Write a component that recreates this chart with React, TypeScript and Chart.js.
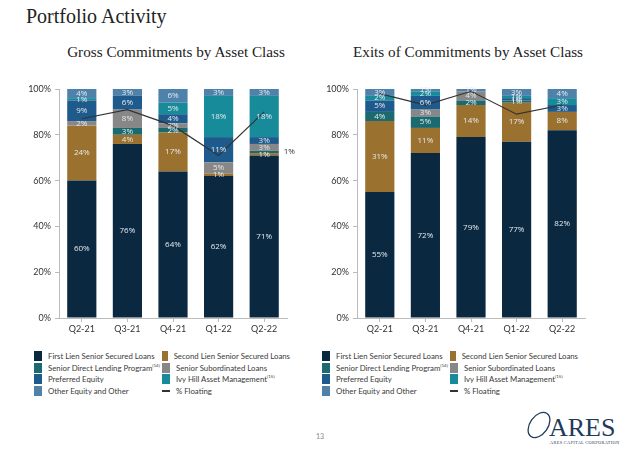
import React, { useEffect, useRef } from "react";
import { Chart, registerables } from "chart.js";
Chart.register(...registerables);

const quarters = ["Q2-21", "Q3-21", "Q4-21", "Q1-22", "Q2-22"];
const seriesNames = [
  "First Lien Senior Secured Loans",
  "Second Lien Senior Secured Loans",
  "Senior Direct Lending Program",
  "Senior Subordinated Loans",
  "Preferred Equity",
  "Ivy Hill Asset Management",
  "Other Equity and Other",
];
const seriesNotes = ["", "", "(14)", "", "", "(15)", ""];
const seriesColors = ["#0a2840", "#9a712e", "#1b6a70", "#878787", "#1e5a8c", "#188b9b", "#4f82ab"];
const floatingName = "% Floating";
const yTicks = [0, 20, 40, 60, 80, 100];

// Gross Commitments (%)
const grossFirstLien = [60, 76, 64, 62, 71];
const grossSecondLien = [24, 4, 17, 1, 1];
const grossSDLP = [0, 3, 2, 0, 1];
const grossSeniorSub = [2, 8, 2, 5, 3];
const grossPreferred = [9, 6, 4, 11, 3];
const grossIvyHill = [1, 0, 5, 18, 18];
const grossOther = [4, 3, 6, 3, 3];
const grossFloating = [87, 91, 84, 71, 90];

// Exits of Commitments (%)
const exitFirstLien = [55, 72, 79, 77, 82];
const exitSecondLien = [31, 11, 14, 17, 8];
const exitSDLP = [4, 5, 2, 1, 0];
const exitSeniorSub = [0, 3, 4, 0, 0];
const exitPreferred = [5, 6, 0, 1, 3];
const exitIvyHill = [2, 2, 0, 1, 3];
const exitOther = [3, 1, 1, 3, 4];
const exitFloating = [98, 93, 99, 89, 93];

const grossSeries = [grossFirstLien, grossSecondLien, grossSDLP, grossSeniorSub, grossPreferred, grossIvyHill, grossOther];
const exitSeries = [exitFirstLien, exitSecondLien, exitSDLP, exitSeniorSub, exitPreferred, exitIvyHill, exitOther];

const SANS = "Lato, 'Noto Sans', sans-serif";
const LABEL_SANS = "'Open Sans', 'Noto Sans', sans-serif";
const SERIF = "'Liberation Serif', 'DejaVu Serif', serif";

const labelPlugin = {
  id: "segLabels",
  afterDatasetsDraw(chart: any, _args: any, opts: any) {
    const ctx = chart.ctx;
    ctx.save();
    ctx.font = `8px ${LABEL_SANS}`;
    ctx.textBaseline = "middle";
    const outside: number[][] = (opts && opts.outside) || [];
    chart.data.datasets.forEach((ds: any, di: number) => {
      if (ds.type === "line") return;
      const meta = chart.getDatasetMeta(di);
      meta.data.forEach((el: any, i: number) => {
        const v = ds.data[i];
        if (!v) return;
        const y = (el.y + el.base) / 2;
        const isOut = outside.some(([d, k]) => d === di && k === i);
        if (isOut) {
          ctx.fillStyle = "#333";
          ctx.textAlign = "left";
          ctx.fillText(v + "%", el.x + el.width / 2 + 5, y);
        } else {
          ctx.fillStyle = "#e4e9ee";
          ctx.textAlign = "center";
          ctx.fillText(v + "%", el.x, y);
        }
      });
    });
    ctx.restore();
  },
};

function StackChart(props: { series: number[][]; floating: number[]; outside: number[][]; left: number; yWidth: number; padRight: number }) {
  const ref = useRef<HTMLCanvasElement>(null);
  useEffect(() => {
    if (!ref.current) return;
    const datasets: any[] = props.series.map((vals, i) => ({
      type: "bar",
      label: seriesNames[i],
      data: vals,
      backgroundColor: seriesColors[i],
      borderWidth: 0,
      barPercentage: 0.64,
      categoryPercentage: 1,
      order: 1,
    }));
    datasets.push({
      type: "line",
      label: floatingName,
      data: props.floating,
      borderColor: "#333333",
      borderWidth: 1.2,
      pointRadius: 0,
      fill: false,
      tension: 0,
      order: 0,
      stack: "floating",
    });
    const chart = new Chart(ref.current, {
      type: "bar",
      data: { labels: quarters, datasets },
      plugins: [labelPlugin],
      options: {
        animation: false,
        responsive: false,
        maintainAspectRatio: false,
        layout: { padding: { top: 11, right: props.padRight, bottom: 0, left: 0 } },
        plugins: {
          legend: { display: false },
          tooltip: { enabled: false },
          segLabels: { outside: props.outside },
        } as any,
        scales: {
          x: {
            stacked: true,
            grid: { display: true, drawOnChartArea: false, offset: false, tickLength: 4, color: "#bbbbbb" },
            border: { color: "#bbbbbb" },
            ticks: { color: "#333", font: { family: SANS, size: 9 }, padding: 2 },
            afterFit: (s: any) => { s.height = 22; },
          },
          y: {
            stacked: true,
            min: 0,
            max: 100,
            afterBuildTicks: (s: any) => { s.ticks = yTicks.map((v) => ({ value: v })); },
            grid: { display: true, drawOnChartArea: false, tickLength: 4, color: "#bbbbbb" },
            border: { color: "#bbbbbb" },
            ticks: { color: "#333", font: { family: SANS, size: 9 }, padding: 4, callback: (v: any) => v + "%" },
            afterFit: (s: any) => { s.width = props.yWidth; },
          },
        },
      } as any,
    });
    return () => chart.destroy();
  }, []);
  return (
    <canvas
      ref={ref}
      width={300}
      height={262}
      style={{ position: "absolute", left: props.left, top: 78, width: 300, height: 262 }}
    />
  );
}

function Legend(props: { left: number }) {
  const items = seriesNames.map((n, i) => ({ name: n, note: seriesNotes[i], color: seriesColors[i], line: false }));
  items.push({ name: floatingName, note: "", color: "#333", line: true });
  return (
    <div
      style={{
        position: "absolute",
        left: props.left,
        top: 350,
        display: "grid",
        gridTemplateColumns: "128px 128px",
        gridAutoRows: "11.7px",
        fontFamily: SANS,
        fontSize: 7.8,
        color: "#3a3a3a",
      }}
    >
      {items.map((it) => (
        <div key={it.name} style={{ display: "flex", alignItems: "center", whiteSpace: "nowrap" }}>
          {it.line ? (
            <span style={{ display: "inline-block", width: 8, height: 1.5, background: it.color, marginRight: 6 }} />
          ) : (
            <span style={{ display: "inline-block", width: 8, height: 10, background: it.color, marginRight: 6 }} />
          )}
          <span>
            {it.name}
            {it.note ? <sup style={{ fontSize: 4.5 }}>{it.note}</sup> : null}
          </span>
        </div>
      ))}
    </div>
  );
}

export default function App() {
  return (
    <div style={{ position: "absolute", left: 0, top: 0, width: 640, height: 474, background: "#fff", overflow: "hidden" }}>
      <div style={{ position: "absolute", left: 26, top: 5, fontFamily: SERIF, fontSize: 20, color: "#222", whiteSpace: "nowrap" }}>
        Portfolio Activity
      </div>
      <div style={{ position: "absolute", left: 26, width: 300, top: 43, textAlign: "center", fontFamily: SERIF, fontSize: 15.2, color: "#222" }}>
        Gross Commitments by Asset Class
      </div>
      <div style={{ position: "absolute", left: 318, width: 300, top: 43, textAlign: "center", fontFamily: SERIF, fontSize: 15.2, color: "#222" }}>
        Exits of Commitments by Asset Class
      </div>
      <StackChart series={grossSeries} floating={grossFloating} outside={[[2, 4]]} left={0} yWidth={59} padRight={13} />
      <StackChart series={exitSeries} floating={exitFloating} outside={[]} left={300} yWidth={57} padRight={15} />
      <Legend left={34} />
      <Legend left={322} />
      <div style={{ position: "absolute", left: 300, width: 40, top: 432, textAlign: "center", fontFamily: SANS, fontSize: 7, color: "#888" }}>
        13
      </div>
      <svg style={{ position: "absolute", left: 515, top: 408 }} width={115} height={42}>
        <ellipse cx={24} cy={17} rx={9} ry={14} transform="rotate(35 24 17)" fill="none" stroke="#1f3a5a" strokeWidth={1.3} />
        <text x={34} y={28} fontFamily={SERIF} fontSize={26} fill="#1f3a5a">ARES</text>
        <text x={35} y={36} fontFamily={SERIF} fontSize={4.4} fill="#1f3a5a" letterSpacing={0.3}>ARES CAPITAL CORPORATION</text>
      </svg>
    </div>
  );
}
